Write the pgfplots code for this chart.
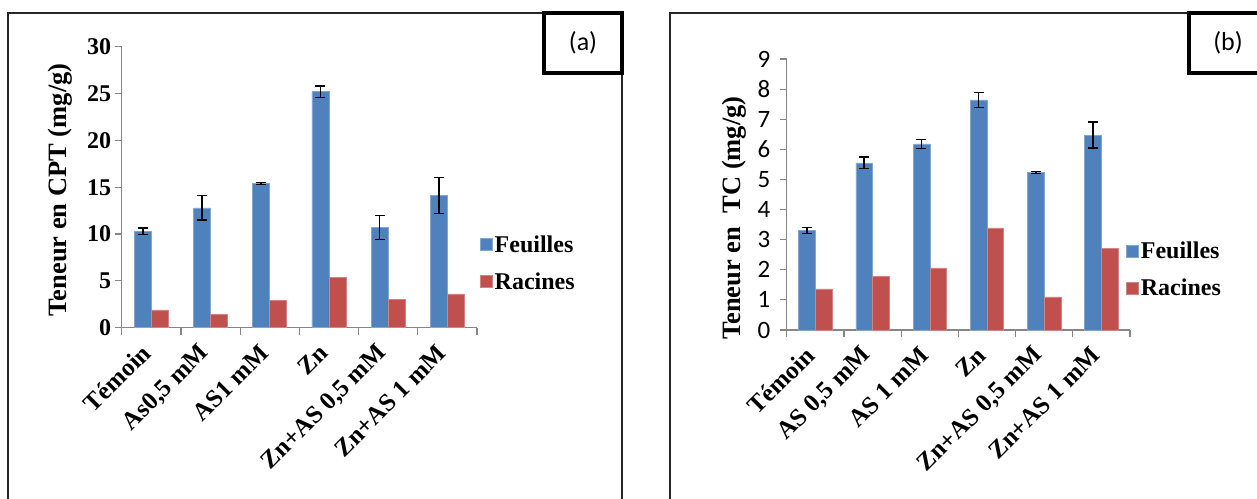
\documentclass[border=0pt]{standalone}
\usepackage{pgfplots}
\pgfplotsset{compat=1.18}
\usepackage{fontspec}
\setmainfont{Liberation Serif}
\newfontfamily\calibri{Carlito}
\definecolor{cblue}{HTML}{4F81BD}
\definecolor{cred}{HTML}{C0504D}
\definecolor{axgray}{HTML}{868686}
\pgfplotsset{
 mystyle/.style={
  scale only axis, axis lines*=left,
  axis line style={axgray, line width=1.2pt},
  /pgf/number format/assume math mode=true,
  ybar=0pt,
  xmin=-0.5, xmax=5.5, ymin=0,
  xtick={0,...,5}, minor xtick={-0.5,0.5,...,5.5},
  major x tick style={draw=none},
  minor x tick style={axgray, line width=1.2pt},
  y tick style={axgray, line width=1.2pt},
  tick align=outside, major tick length=7pt, minor tick length=7pt,
  xticklabel style={yshift=-12pt, xshift=-3pt, rotate=45, anchor=east, font=\fontsize{25}{25}\selectfont\bfseries},
  every axis y label/.style={rotate=90, anchor=center, font=\fontsize{26.5}{26.5}\selectfont\bfseries},
  legend style={draw=none, fill=none, font=\fontsize{24}{28}\selectfont\bfseries, legend cell align=left, row sep=15pt, anchor=west},
  legend image code/.code={\fill[##1] (0pt,-6pt) rectangle (12pt,6pt);},
  error bars/y dir=both, error bars/y explicit,
  error bars/error bar style={black, line width=1.5pt},
  error bars/error mark options={rotate=90, black, line width=1.5pt, mark size=5pt},
 }
}
\begin{document}
\begin{tikzpicture}[x=1pt,y=1pt]
\useasboundingbox (0,0) rectangle (1257,498);
\clip (0,0) rectangle (1257,498);
\draw[line width=1.5pt, black!85] (8,-20) rectangle (622,485);
\draw[line width=1.5pt, black!85] (670,-20) rectangle (1290,485);
\draw[line width=3.5pt] (544,485) rectangle (622,425);
\node[font=\calibri\fontsize{26}{26}\selectfont] at (583,455) {(a)};
\draw[line width=3.5pt] (1189,485) rectangle (1290,425);
\node[font=\calibri\fontsize{26}{26}\selectfont] at (1228,455) {(b)};

\begin{axis}[mystyle, at={(121.7pt,170.3pt)}, anchor=south west,
  width=355.3pt, height=281pt, bar width=17pt,
  ymax=30, ytick={0,5,...,30},
  yticklabel style={font=\fontsize{24}{24}\selectfont\bfseries},
  xticklabels={Témoin,{As0,5 mM},{AS1 mM},Zn,{Zn+AS 0,5 mM},{Zn+AS 1 mM}},
  ylabel={Teneur en CPT (mg/g)},
  ylabel style={at={(-0.174,0.49)}},
  legend style={at={(1.0,0.23)}}]
\addplot[fill=cblue, draw=cblue!70!white, line width=0.5pt] coordinates {
 (0,10.3) +- (0,0.35)
 (1,12.8) +- (0,1.3)
 (2,15.4) +- (0,0.1)
 (3,25.2) +- (0,0.6)
 (4,10.7) +- (0,1.3)
 (5,14.1) +- (0,1.93)
};
\addplot[fill=cred, draw=cred!70!white, line width=0.5pt] coordinates {
 (0,1.9) (1,1.4) (2,2.9) (3,5.4) (4,3.0) (5,3.6)
};
\legend{Feuilles,Racines}
\end{axis}

\begin{axis}[mystyle, at={(786.7pt,168pt)}, anchor=south west,
  width=343.3pt, height=271pt, bar width=16.7pt,
  ymax=9, ytick={0,...,9},
  yticklabel style={font=\calibri\fontsize{25}{25}\selectfont, xshift=-6pt},
  xticklabels={Témoin,{AS 0,5 mM},{AS 1 mM},Zn,{Zn+AS 0,5 mM},{Zn+AS 1 mM}},
  ylabel={Teneur en\ \ TC (mg/g)},
  ylabel style={at={(-0.152,0.413)}},
  legend style={at={(0.98,0.222)}}]
\addplot[fill=cblue, draw=cblue!70!white, line width=0.5pt] coordinates {
 (0,3.3) +- (0,0.1)
 (1,5.55) +- (0,0.19)
 (2,6.18) +- (0,0.15)
 (3,7.64) +- (0,0.25)
 (4,5.23) +- (0,0.03)
 (5,6.47) +- (0,0.43)
};
\addplot[fill=cred, draw=cred!70!white, line width=0.5pt] coordinates {
 (0,1.37) (1,1.79) (2,2.06) (3,3.39) (4,1.1) (5,2.72)
};
\legend{Feuilles,Racines}
\end{axis}
\end{tikzpicture}
\end{document}
